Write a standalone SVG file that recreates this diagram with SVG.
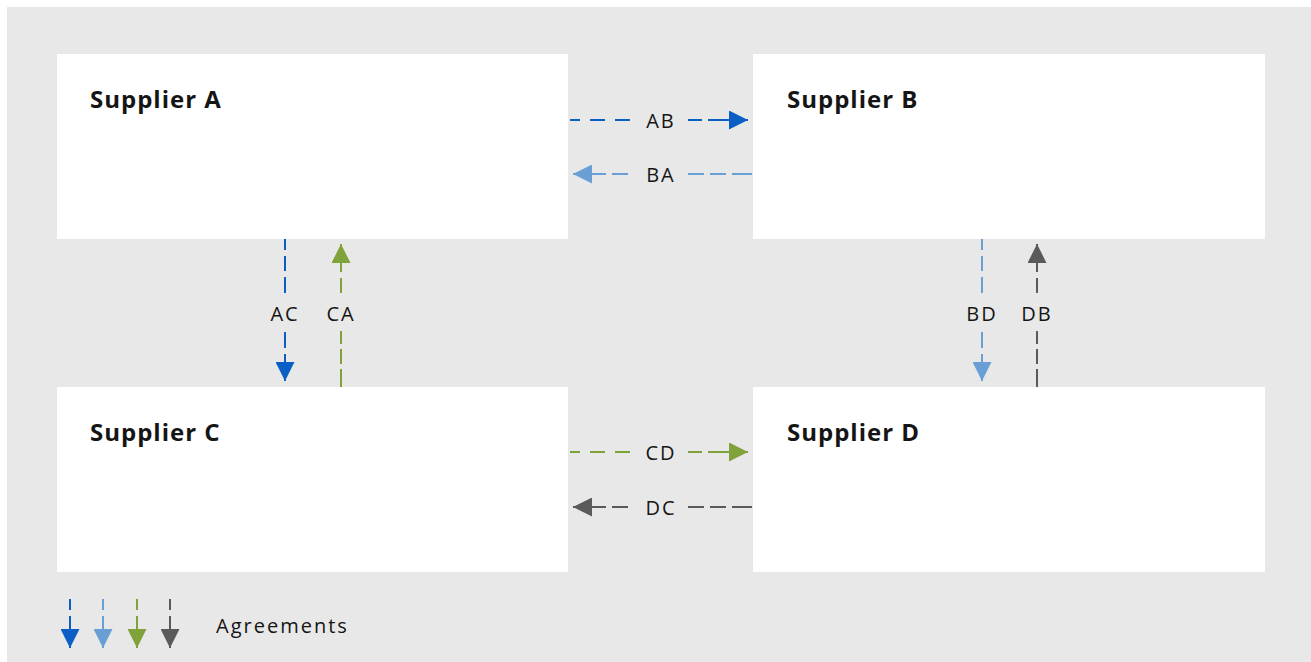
<svg xmlns="http://www.w3.org/2000/svg" width="1311" height="662" viewBox="0 0 1311 662">
<style>
.box{fill:#ffffff}
.title{font-family:"Open Sans","Liberation Sans",sans-serif;font-weight:700;font-size:24px;letter-spacing:1px;fill:#151515}
.lbl{font-family:"Open Sans","Liberation Sans",sans-serif;font-size:20px;letter-spacing:2px;fill:#151515;text-anchor:middle;dominant-baseline:central}
.ln{fill:none;stroke-width:2}
.c1{stroke:#0b5fc4}.c2{stroke:#6a9fd6}.c3{stroke:#7fa33a}.c4{stroke:#5a5a5a}
</style>
<defs>
<marker id="m1" viewBox="0 0 10 10" refX="10" refY="5" markerWidth="19" markerHeight="19" markerUnits="userSpaceOnUse" orient="auto"><path d="M0,0L10,5L0,10z" fill="#0b5fc4"/></marker>
<marker id="m2" viewBox="0 0 10 10" refX="10" refY="5" markerWidth="19" markerHeight="19" markerUnits="userSpaceOnUse" orient="auto"><path d="M0,0L10,5L0,10z" fill="#6a9fd6"/></marker>
<marker id="m3" viewBox="0 0 10 10" refX="10" refY="5" markerWidth="19" markerHeight="19" markerUnits="userSpaceOnUse" orient="auto"><path d="M0,0L10,5L0,10z" fill="#7fa33a"/></marker>
<marker id="m4" viewBox="0 0 10 10" refX="10" refY="5" markerWidth="19" markerHeight="19" markerUnits="userSpaceOnUse" orient="auto"><path d="M0,0L10,5L0,10z" fill="#5a5a5a"/></marker>
</defs>
<rect x="7" y="7" width="1304" height="655" fill="#e8e8e8"/>
<g id="supplier-a"><rect class="box" x="57" y="54" width="511" height="185"/><text class="title" x="90" y="108">Supplier A</text></g>
<g id="supplier-b"><rect class="box" x="753" y="54" width="512" height="185"/><text class="title" x="787" y="108">Supplier B</text></g>
<g id="supplier-c"><rect class="box" x="57" y="387" width="511" height="185"/><text class="title" x="90" y="441">Supplier C</text></g>
<g id="supplier-d"><rect class="box" x="753" y="387" width="512" height="185"/><text class="title" x="787" y="441">Supplier D</text></g>
<g id="connectors">
<path class="ln c1" d="M570,120H580M590,120H605M615,120H630"/><path class="ln c1" d="M688,120H702M708,120H748" marker-end="url(#m1)"/><text class="lbl" x="661" y="120">AB</text>
<path class="ln c2" d="M752,174H732M726,174H710M704,174H688"/><path class="ln c2" d="M628,174H612M606,174H573" marker-end="url(#m2)"/><text class="lbl" x="661" y="174">BA</text>
<path class="ln c3" d="M570,452H580M590,452H605M615,452H630"/><path class="ln c3" d="M688,452H702M708,452H748" marker-end="url(#m3)"/><text class="lbl" x="661" y="452">CD</text>
<path class="ln c4" d="M752,507H732M726,507H710M704,507H688"/><path class="ln c4" d="M628,507H612M606,507H573" marker-end="url(#m4)"/><text class="lbl" x="661" y="507">DC</text>
<path class="ln c1" d="M285,239V250M285,256V271M285,277V293"/><path class="ln c1" d="M285,332V348M285,354V381" marker-end="url(#m1)"/><text class="lbl" x="285" y="313">AC</text>
<path class="ln c3" d="M341,387V369M341,364V349M341,344V331"/><path class="ln c3" d="M341,293V278M341,272V244" marker-end="url(#m3)"/><text class="lbl" x="341" y="313">CA</text>
<path class="ln c2" d="M982,239V250M982,256V271M982,277V293"/><path class="ln c2" d="M982,332V348M982,354V381" marker-end="url(#m2)"/><text class="lbl" x="982" y="313">BD</text>
<path class="ln c4" d="M1037,387V369M1037,364V349M1037,344V331"/><path class="ln c4" d="M1037,293V278M1037,272V244" marker-end="url(#m4)"/><text class="lbl" x="1037" y="313">DB</text>
</g>
<g id="legend">
<path class="ln c1" d="M70,599V610M70,616V648" marker-end="url(#m1)"/>
<path class="ln c2" d="M103,599V610M103,616V648" marker-end="url(#m2)"/>
<path class="ln c3" d="M137,599V610M137,616V648" marker-end="url(#m3)"/>
<path class="ln c4" d="M170,599V610M170,616V648" marker-end="url(#m4)"/>
<text class="lbl" x="216" y="625" style="text-anchor:start">Agreements</text>
</g>
</svg>
